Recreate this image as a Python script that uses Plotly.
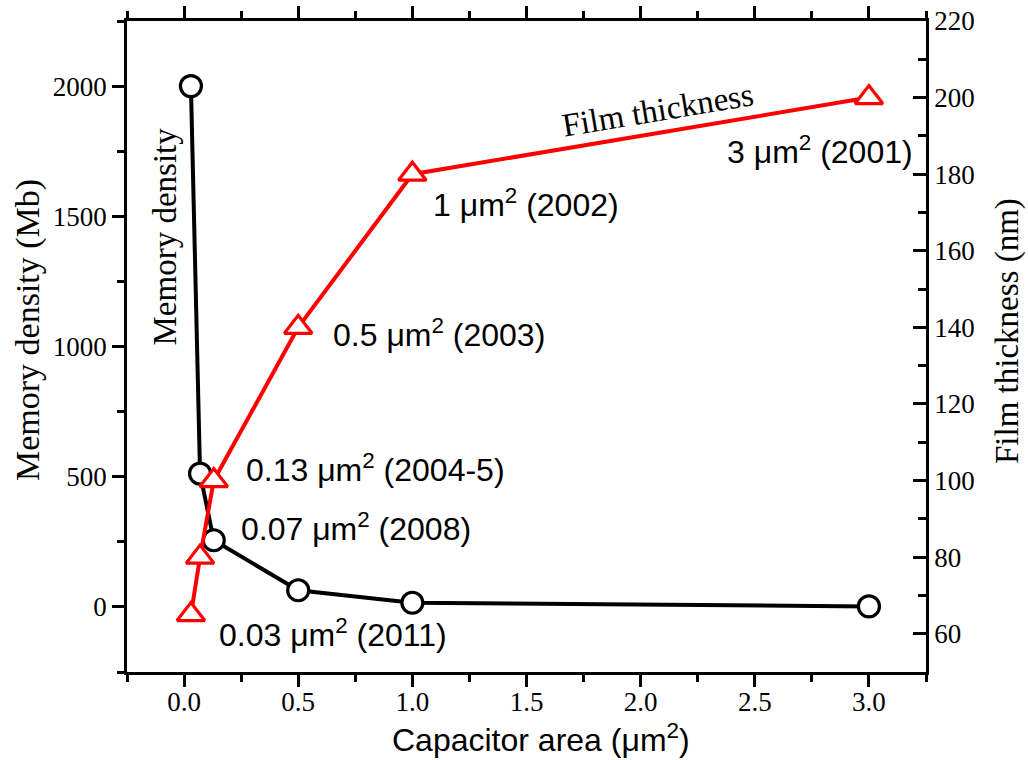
import plotly.graph_objects as go

# Data
area = [0.03, 0.07, 0.13, 0.5, 1.0, 3.0]
memory_density = [2000, 512, 256, 64, 16, 2]
film_thickness = [65, 80, 100, 140, 180, 200]

x_tick_vals = [0.0, 0.5, 1.0, 1.5, 2.0, 2.5, 3.0]
x_tick_text = ["0.0", "0.5", "1.0", "1.5", "2.0", "2.5", "3.0"]

point_labels = [
    "0.03 μm<sup>2</sup> (2011)",
    "0.07 μm<sup>2</sup> (2008)",
    "0.13 μm<sup>2</sup> (2004-5)",
    "0.5 μm<sup>2</sup> (2003)",
    "1 μm<sup>2</sup> (2002)",
    "3 μm<sup>2</sup> (2001)",
]
label_x = [0.145, 0.24, 0.263, 0.645, 1.083, 3.20]
label_y = [-100, 308, 535, 1050, 1550, 1754]
label_anchor = ["left", "left", "left", "left", "left", "right"]

x_title = "Capacitor area (μm<sup>2</sup>)"
y_title = "Memory density (Mb)"
y2_title = "Film thickness (nm)"

SERIF = "Liberation Serif, Times New Roman, serif"
SANS = "Liberation Sans, Arial, sans-serif"

fig = go.Figure()

fig.add_trace(go.Scatter(
    x=area, y=memory_density, mode="lines+markers",
    line=dict(color="black", width=4),
    marker=dict(symbol="circle", size=21, color="white",
                line=dict(color="black", width=3.2)),
    showlegend=False, cliponaxis=False,
))

fig.add_trace(go.Scatter(
    x=area, y=film_thickness, mode="lines+markers", yaxis="y2",
    line=dict(color="#ff0000", width=4),
    marker=dict(symbol="triangle-up", size=24, color="white",
                line=dict(color="#ff0000", width=3.2)),
    showlegend=False, cliponaxis=False,
))

annotations = []
for t, xx, yy, anc in zip(point_labels, label_x, label_y, label_anchor):
    annotations.append(dict(
        x=xx, y=yy, xref="x", yref="y", text=t, showarrow=False,
        xanchor=anc, yanchor="middle",
        font=dict(family=SANS, size=32, color="black"),
    ))
annotations.append(dict(
    x=2.075, y=1908, xref="x", yref="y", text="Film thickness", showarrow=False,
    textangle=-9.5, xanchor="center", yanchor="middle",
    font=dict(family=SERIF, size=33, color="black"),
))
annotations.append(dict(
    x=-0.083, y=1423, xref="x", yref="y", text="Memory density", showarrow=False,
    textangle=-90, xanchor="center", yanchor="middle",
    font=dict(family=SERIF, size=33, color="black"),
))
# axis titles
annotations.append(dict(
    x=-0.1239, y=0.5253, xref="paper", yref="paper", text=y_title, showarrow=False,
    textangle=-90, xanchor="center", yanchor="middle",
    font=dict(family=SERIF, size=34, color="black"),
))
annotations.append(dict(
    x=1.1014, y=0.5238, xref="paper", yref="paper", text=y2_title, showarrow=False,
    textangle=-90, xanchor="center", yanchor="middle",
    font=dict(family=SERIF, size=33, color="black"),
))
annotations.append(dict(
    x=0.518, y=-0.1015, xref="paper", yref="paper", text=x_title, showarrow=False,
    xanchor="center", yanchor="middle",
    font=dict(family=SANS, size=32, color="black"),
))

fig.update_layout(
    width=1028, height=760,
    margin=dict(l=127, r=102, t=21, b=88),
    paper_bgcolor="white", plot_bgcolor="white",
    annotations=annotations,
    xaxis=dict(
        range=[-0.25, 3.25], automargin=False,
        tickvals=x_tick_vals, ticktext=x_tick_text,
        ticks="outside", ticklen=12, tickwidth=2.5, tickcolor="black",
        showline=True, linewidth=2.5, linecolor="black", mirror="ticks",
        showgrid=False, zeroline=False, ticklabelstandoff=-8,
        minor=dict(dtick=0.25, tick0=0, ticks="outside", ticklen=7, tickwidth=2.5,
                   tickcolor="black", showgrid=False),
        tickfont=dict(family=SERIF, size=27, color="black"),
    ),
    yaxis=dict(
        range=[-250, 2250], dtick=500, tick0=0, automargin=False,
        ticks="outside", ticklen=12, tickwidth=2.5, tickcolor="black",
        showline=True, linewidth=2.5, linecolor="black",
        showgrid=False, zeroline=False,
        minor=dict(dtick=250, tick0=0, ticks="outside", ticklen=7, tickwidth=2.5,
                   tickcolor="black", showgrid=False),
        tickfont=dict(family=SERIF, size=27, color="black"),
    ),
    yaxis2=dict(
        overlaying="y", side="right", automargin=False,
        range=[50, 220], dtick=20, tick0=0,
        ticks="inside", ticklen=13, tickwidth=2.5, tickcolor="black",
        showline=True, linewidth=2.5, linecolor="black",
        showgrid=False, zeroline=False,
        minor=dict(dtick=10, tick0=0, ticks="inside", ticklen=8, tickwidth=2.5,
                   tickcolor="black", showgrid=False),
        tickfont=dict(family=SERIF, size=27, color="black"),
    ),
)

fig.write_html("out.html")
